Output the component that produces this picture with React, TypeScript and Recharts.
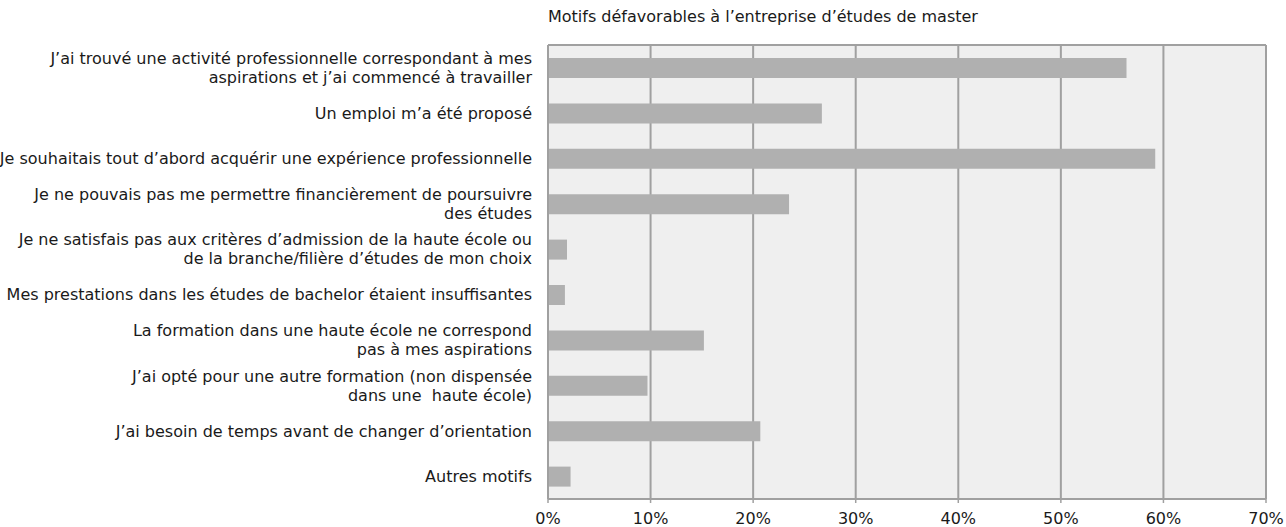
import React from 'react'
import { BarChart, Bar, XAxis, YAxis, CartesianGrid } from 'recharts'

const categories = [
  "J’ai trouvé une activité professionnelle correspondant à mes\naspirations et j’ai commencé à travailler",
  "Un emploi m’a été proposé",
  "Je souhaitais tout d’abord acquérir une expérience professionnelle",
  "Je ne pouvais pas me permettre financièrement de poursuivre\ndes études",
  "Je ne satisfais pas aux critères d’admission de la haute école ou\nde la branche/filière d’études de mon choix",
  "Mes prestations dans les études de bachelor étaient insuffisantes",
  "La formation dans une haute école ne correspond\npas à mes aspirations",
  "J’ai opté pour une autre formation (non dispensée\ndans une  haute école)",
  "J’ai besoin de temps avant de changer d’orientation",
  "Autres motifs",
]

const values = [56.4, 26.7, 59.2, 23.5, 1.85, 1.65, 15.2, 9.7, 20.7, 2.2]

const xTicks = [0, 10, 20, 30, 40, 50, 60, 70]

const title = "Motifs défavorables à l’entreprise d’études de master"

const data = categories.map((name, i) => ({ name, value: values[i] }))

const FONT = '"DejaVu Sans", sans-serif'

const CategoryTick = (props: any) => {
  const { x, y, payload } = props
  const lines = String(payload.value).split('\n')
  const lineHeight = 19
  const start = -((lines.length - 1) * lineHeight) / 2
  return (
    <text
      x={x}
      y={y}
      textAnchor="end"
      fill="#1a1a1a"
      fontSize={16}
      fontFamily={FONT}
      style={{ whiteSpace: 'pre' }}
    >
      {lines.map((line, i) => (
        <tspan key={i} x={x} y={y + start + i * lineHeight} dy="0.35em">
          {line}
        </tspan>
      ))}
    </text>
  )
}

export default function App() {
  return (
    <div style={{ position: 'relative', width: 1286, height: 527, background: '#fff' }}>
      <style>{`body{margin:0}`}</style>
      <div
        style={{
          position: 'absolute',
          left: 548,
          top: 7,
          fontFamily: FONT,
          fontSize: 16,
          lineHeight: '19px',
          color: '#1a1a1a',
          whiteSpace: 'nowrap',
        }}
      >
        {title}
      </div>
      <BarChart
        width={1286}
        height={527}
        data={data}
        layout="vertical"
        margin={{ top: 45, right: 20, bottom: 0, left: 0 }}
        barSize={20}
      >
        <CartesianGrid
          horizontal={true}
          horizontalCoordinatesGenerator={(p: any) => [p.offset.top]}
          vertical={true}
          stroke="#a0a0a0"
          strokeWidth={2}
          fill="#efefef"
          fillOpacity={1}
        />
        <XAxis
          type="number"
          domain={[0, 70]}
          ticks={xTicks}
          tickFormatter={(v) => `${v}%`}
          axisLine={{ stroke: '#a0a0a0', strokeWidth: 2 }}
          tickLine={{ stroke: '#a0a0a0', strokeWidth: 1.5 }}
          tickSize={4}
          tickMargin={10}
          height={28}
          tick={{ fill: '#1a1a1a', fontSize: 16, fontFamily: FONT }}
          interval={0}
        />
        <YAxis
          type="category"
          dataKey="name"
          width={548}
          axisLine={{ stroke: '#a0a0a0', strokeWidth: 2 }}
          tickLine={false}
          tickMargin={10}
          tick={<CategoryTick />}
          interval={0}
        />
        <Bar dataKey="value" fill="#b0b0b0" isAnimationActive={false} />
      </BarChart>
    </div>
  )
}
